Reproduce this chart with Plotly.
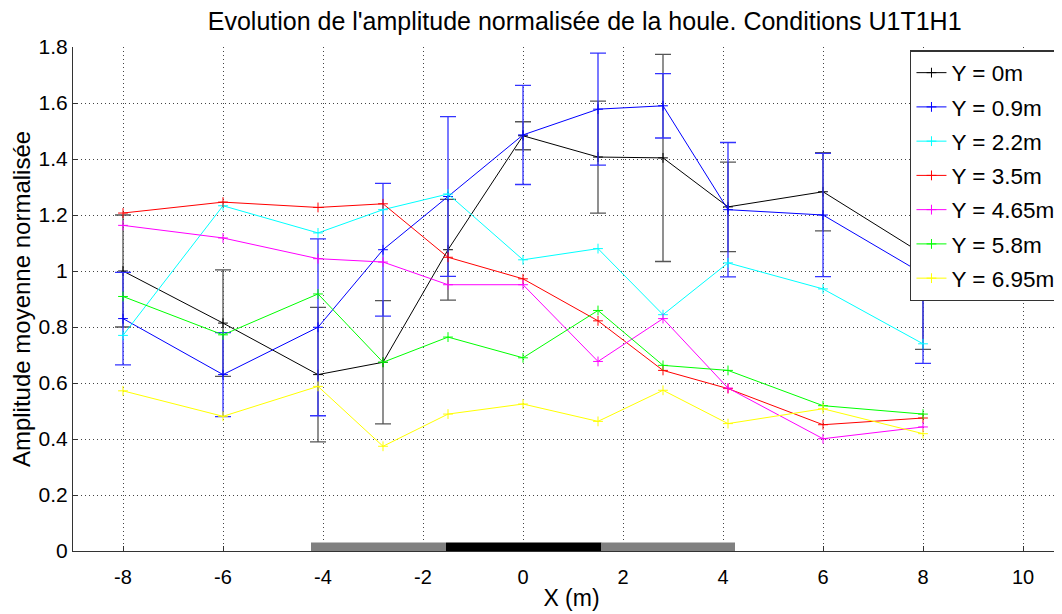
import plotly.graph_objects as go

X = [-8, -6, -4.1, -2.8, -1.5, 0, 1.5, 2.8, 4.1, 6, 8]

names = ["Y = 0m", "Y = 0.9m", "Y = 2.2m", "Y = 3.5m", "Y = 4.65m", "Y = 5.8m", "Y = 6.95m"]
colors = ["#000000", "#0000ff", "#00ffff", "#ff0000", "#ff00ff", "#00ff00", "#ffff00"]
err_colors = ["#555555", "#3333ff"]

y_0 = [1.00, 0.814, 0.63, 0.674, 1.076, 1.483, 1.407, 1.404, 1.229, 1.283, 1.06]
err_0 = [0.20, 0.19, 0.24, 0.22, 0.18, 0.05, 0.20, 0.37, 0.16, 0.14, 0.34]
y_09 = [0.83, 0.63, 0.799, 1.076, 1.266, 1.486, 1.578, 1.59, 1.219, 1.20, 0.99]
err_09 = [0.165, 0.15, 0.316, 0.237, 0.285, 0.177, 0.20, 0.115, 0.24, 0.22, 0.32]
y_22 = [0.77, 1.233, 1.136, 1.219, 1.275, 1.04, 1.08, 0.844, 1.029, 0.936, 0.74]
y_35 = [1.207, 1.246, 1.227, 1.24, 1.049, 0.972, 0.822, 0.645, 0.58, 0.451, 0.475]
y_465 = [1.163, 1.118, 1.044, 1.032, 0.951, 0.951, 0.677, 0.83, 0.582, 0.401, 0.443]
y_58 = [0.909, 0.772, 0.918, 0.674, 0.764, 0.69, 0.859, 0.663, 0.645, 0.519, 0.489]
y_695 = [0.572, 0.481, 0.588, 0.374, 0.489, 0.525, 0.463, 0.574, 0.455, 0.508, 0.419]

series = [y_0, y_09, y_22, y_35, y_465, y_58, y_695]
errors = [err_0, err_09, None, None, None, None, None]

# bottom structure bar: segments (x start, x end, colour)
bar_x0 = [-4.24, -1.54, 1.57]
bar_x1 = [-1.54, 1.57, 4.24]
bar_colors = ["#808080", "#000000", "#808080"]
bar_top = 0.03

x_ticks = [-8, -6, -4, -2, 0, 2, 4, 6, 8, 10]
x_ticklabels = ["-8", "-6", "-4", "-2", "0", "2", "4", "6", "8", "10"]
y_ticks = [0, 0.2, 0.4, 0.6, 0.8, 1.0, 1.2, 1.4, 1.6, 1.8]
y_ticklabels = ["0", "0.2", "0.4", "0.6", "0.8", "1", "1.2", "1.4", "1.6", "1.8"]

fig = go.Figure()

for i, (name, col, ys, err) in enumerate(zip(names, colors, series, errors)):
    kw = {}
    if err is not None:
        kw["error_y"] = dict(type="data", array=err, visible=True, color=err_colors[i],
                             thickness=1.3, width=8)
    fig.add_trace(go.Scatter(
        x=X, y=ys, name=name, mode="lines+markers", legendgroup=name,
        line=dict(color=col, width=1),
        marker=dict(symbol="cross-thin", size=7, line=dict(color=col, width=1)),
        **kw))

for x0, x1, c in zip(bar_x0, bar_x1, bar_colors):
    fig.add_shape(type="rect", xref="x", yref="y", x0=x0, x1=x1, y0=0, y1=bar_top,
                  fillcolor=c, line=dict(width=0), layer="above")

font = "Liberation Sans, Arial, sans-serif"
grid_dash = "1px,3px"

fig.update_layout(
    width=1062, height=614,
    margin=dict(l=65, r=0, t=39, b=71),
    paper_bgcolor="white", plot_bgcolor="white",
    font=dict(family=font, size=20, color="black"),
    title=dict(text="Evolution de l'amplitude normalisée de la houle. Conditions U1T1H1",
               x=0.543, xanchor="center", y=0.993, yanchor="top", yref="container",
               pad=dict(t=0, b=0, l=0, r=0),
               font=dict(size=25, family=font, color="black")),
    showlegend=True,
    legend=dict(x=0.8395, y=0.994, xanchor="left", yanchor="top",
                bgcolor="white", bordercolor="#333333", borderwidth=1.5,
                font=dict(size=22.5, family=font, color="black"),
                traceorder="grouped", tracegroupgap=2, itemwidth=30),
    xaxis=dict(range=[-9, 10.94], tickvals=x_ticks, ticktext=x_ticklabels,
               ticks="inside", ticklen=5, tickcolor="#333333",
               showgrid=True, gridcolor="#444444", griddash=grid_dash, gridwidth=1,
               showline=True, linecolor="#333333", linewidth=1.2,
               zeroline=False, automargin=False, ticklabelstandoff=8,
               title=dict(text="X (m)", font=dict(size=23, family=font), standoff=2),
               tickfont=dict(size=20, family=font)),
    yaxis=dict(range=[0, 1.8], tickvals=y_ticks, ticktext=y_ticklabels,
               ticks="inside", ticklen=5, tickcolor="#333333",
               showgrid=True, gridcolor="#444444", griddash=grid_dash, gridwidth=1,
               showline=True, linecolor="#333333", linewidth=1.2,
               zeroline=False, automargin=False,
               title=dict(text="Amplitude moyenne normalisée", font=dict(size=24, family=font), standoff=4),
               tickfont=dict(size=21, family=font)),
)

fig.write_html("out.html")
